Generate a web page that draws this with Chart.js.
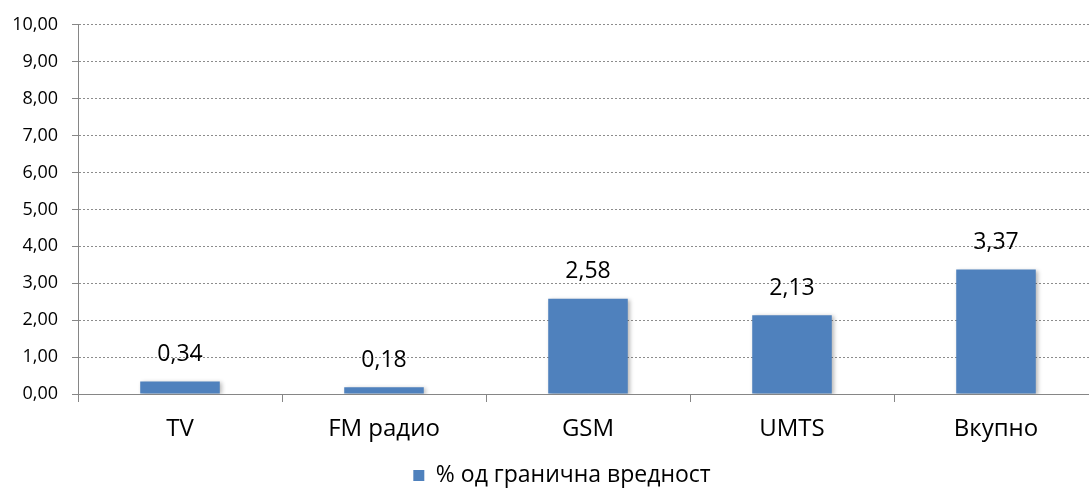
<!DOCTYPE html>
<html>
<head>
<meta charset="utf-8">
<script src="https://cdn.jsdelivr.net/npm/chart.js@4/dist/chart.umd.min.js"></script>
<style>
  html, body { margin: 0; padding: 0; background: #fff; overflow: hidden; }
  #wrap { width: 1100px; height: 497px; }
</style>
</head>
<body>
<div id="wrap"><canvas id="c" width="1100" height="497"></canvas></div>
<script>
var categories = ['TV', 'FM радио', 'GSM', 'UMTS', 'Вкупно'];
var values = [0.34, 0.18, 2.58, 2.13, 3.37];
var seriesName = '% од гранична вредност';
var yMin = 0, yMax = 10, yStep = 1;

function fmt(v) {
    return v.toFixed(2).replace('.', ',');
}

var FONT = '"Open Sans", "DejaVu Sans", sans-serif';

var barShadow = {
    id: 'barShadow',
    beforeDatasetsDraw: function (chart) {
        var ctx = chart.ctx;
        ctx.save();
        ctx.shadowColor = 'rgba(0,0,0,0.28)';
        ctx.shadowBlur = 4;
        ctx.shadowOffsetX = 2;
        ctx.shadowOffsetY = 1;
    },
    afterDatasetsDraw: function (chart) {
        chart.ctx.restore();
    }
};

var valueLabels = {
    id: 'valueLabels',
    afterDatasetsDraw: function (chart) {
        var ctx = chart.ctx;
        var meta = chart.getDatasetMeta(0);
        ctx.save();
        ctx.shadowColor = 'transparent';
        ctx.font = '23px ' + FONT;
        ctx.fillStyle = '#000';
        ctx.textAlign = 'center';
        ctx.textBaseline = 'middle';
        meta.data.forEach(function (bar, i) {
            ctx.fillText(fmt(values[i]), bar.x, bar.y - 27);
        });
        ctx.restore();
    }
};

// nudge legend a bit right, the original was centred on a wider chart
var legendShift = {
    id: 'legendShift',
    beforeDraw: function (chart) {
        if (chart.legend) chart.legend.left = 26;
    }
};

var chart = new Chart(document.getElementById('c'), {
    type: 'bar',
    data: {
        labels: categories,
        datasets: [{
            label: seriesName,
            data: values,
            backgroundColor: '#4F81BD',
            borderWidth: 0,
            categoryPercentage: 1,
            barPercentage: 0.39
        }]
    },
    options: {
        responsive: false,
        animation: false,
        layout: { padding: { top: 20, right: 2, left: 0, bottom: 0 } },
        plugins: {
            legend: {
                position: 'bottom',
                labels: {
                    font: { family: FONT, size: 23 },
                    color: '#000',
                    boxWidth: 11,
                    boxHeight: 11,
                    padding: 10
                }
            },
            tooltip: { enabled: false }
        },
        scales: {
            x: {
                offset: true,
                grid: {
                    offset: true,
                    drawOnChartArea: false,
                    color: '#868686',
                    tickLength: 8
                },
                border: { color: '#868686', width: 1 },
                ticks: {
                    font: { family: FONT, size: 24 },
                    color: '#000',
                    padding: 13,
                    maxRotation: 0
                },
                afterFit: function (s) { s.height = 60; }
            },
            y: {
                min: yMin,
                max: yMax,
                grid: {
                    color: '#8c8c8c',
                    tickColor: '#868686',
                    tickLength: 6
                },
                border: { color: '#868686', width: 1, dash: [2, 2] },
                ticks: {
                    stepSize: yStep,
                    font: { family: FONT, size: 18 },
                    color: '#000',
                    padding: 14,
                    callback: function (v) { return fmt(v); }
                },
                afterFit: function (s) { s.width = 78; }
            }
        }
    },
    plugins: [barShadow, valueLabels, legendShift]
});
</script>
</body>
</html>
